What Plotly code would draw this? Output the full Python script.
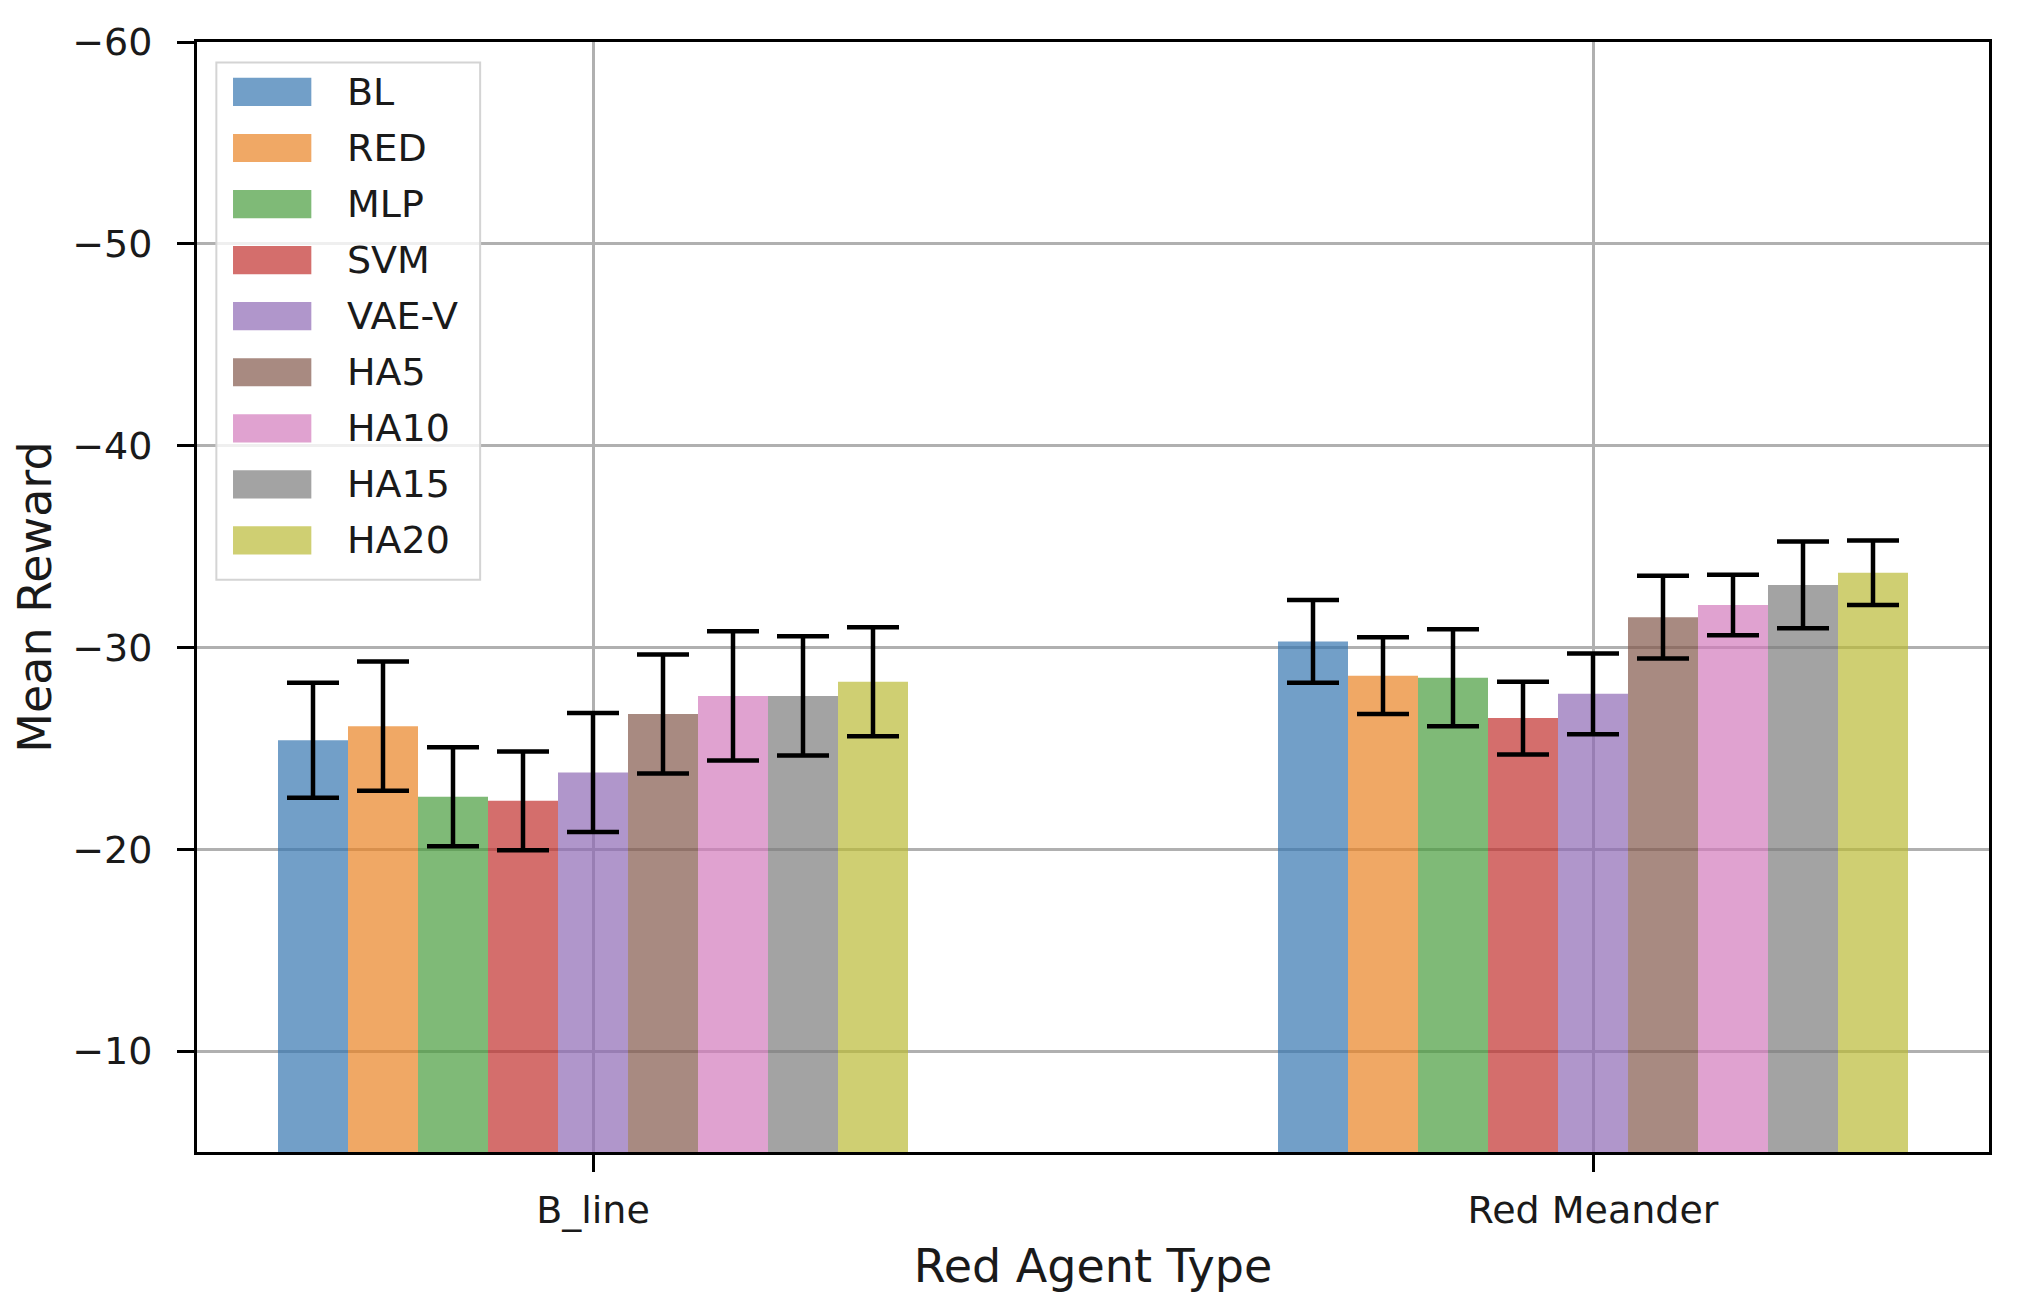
import plotly.graph_objects as go

# red agent types (x categories)
agents = ["B_line", "Red Meander"]

# blue agent variants (one bar per variant in each group)
methods = ["BL", "RED", "MLP", "SVM", "VAE-V", "HA5", "HA10", "HA15", "HA20"]

# mean reward per method, order = agents
bl = [-25.4, -30.3]
red = [-26.1, -28.6]
mlp = [-22.6, -28.5]
svm = [-22.4, -26.5]
vae_v = [-23.8, -27.7]
ha5 = [-26.7, -31.5]
ha10 = [-27.6, -32.1]
ha15 = [-27.6, -33.1]
ha20 = [-28.3, -33.7]

# std (error bar half length)
bl_err = [2.85, 2.05]
red_err = [3.2, 1.9]
mlp_err = [2.45, 2.4]
svm_err = [2.45, 1.8]
vae_v_err = [2.95, 2.0]
ha5_err = [2.95, 2.05]
ha10_err = [3.2, 1.5]
ha15_err = [2.95, 2.15]
ha20_err = [2.7, 1.6]

means = [bl, red, mlp, svm, vae_v, ha5, ha10, ha15, ha20]
errs = [bl_err, red_err, mlp_err, svm_err, vae_v_err, ha5_err, ha10_err, ha15_err, ha20_err]

# translucent fills, so the grid shows through like in the original
colors = [
    "rgba(54,118,176,0.7)", "rgba(234,131,36,0.7)", "rgba(72,156,61,0.7)",
    "rgba(194,48,45,0.7)", "rgba(142,106,181,0.7)", "rgba(131,89,75,0.7)",
    "rgba(211,122,188,0.7)", "rgba(124,124,124,0.7)", "rgba(186,186,54,0.7)",
]

FONT = "DejaVu Sans"
FS = 38
TXT = "#1a1a1a"

fig = go.Figure()

for name, m, e, c in zip(methods, means, errs, colors):
    fig.add_trace(
        go.Bar(
            x=agents, y=m, name=name,
            marker=dict(color=c, line=dict(width=0)),
            error_y=dict(type="data", array=e, color="black", thickness=4.5, width=26),
            showlegend=False,
        )
    )

# legend drawn by hand so the handles can be matplotlib-sized
shapes = [
    dict(type="rect", xref="x domain", yref="y domain",
         x0=0.0108, x1=0.158, y0=0.5155, y1=0.9816,
         fillcolor="rgba(255,255,255,0.8)", line=dict(color="#d4d4d4", width=2), layer="above")
]
annotations = []
for i, (name, c) in enumerate(zip(methods, colors)):
    yc = 0.955 - i * 0.0505
    shapes.append(dict(type="rect", xref="x domain", yref="y domain",
                       x0=0.0201, x1=0.0638, y0=yc - 0.0127, y1=yc + 0.0127,
                       fillcolor=c, line=dict(width=0), layer="above"))
    annotations.append(dict(text=name, xref="x domain", yref="y domain",
                            x=0.0825, y=yc, xanchor="left", yanchor="middle",
                            showarrow=False, font=dict(family=FONT, size=FS, color=TXT)))

# page body adds ~8px offset, margins compensate for it
fig.update_layout(
    width=2018, height=1303,
    margin=dict(l=189, r=37, t=24, b=159),
    plot_bgcolor="white", paper_bgcolor="white",
    barmode="group", bargap=0.37, bargroupgap=0,
    font=dict(family=FONT, size=FS, color=TXT),
    shapes=shapes, annotations=annotations,
    xaxis=dict(
        type="category", range=[-0.396, 1.396],
        title=dict(text="Red Agent Type", standoff=20),
        showgrid=True, gridcolor="#b0b0b0", gridwidth=2.5,
        showline=True, linecolor="black", linewidth=3, mirror=True,
        ticks="outside", ticklen=17, tickwidth=3, tickcolor="black",
        ticklabelstandoff=5,
    ),
    yaxis=dict(
        range=[-5, -60], tickvals=[-60, -50, -40, -30, -20, -10],
        title=dict(text="Mean Reward", standoff=19),
        showgrid=True, gridcolor="#b0b0b0", gridwidth=2.5, zeroline=False,
        showline=True, linecolor="black", linewidth=3, mirror=True,
        ticks="outside", ticklen=17, tickwidth=3, tickcolor="black",
        ticklabelstandoff=17,
    ),
)

fig.write_html("out.html")
